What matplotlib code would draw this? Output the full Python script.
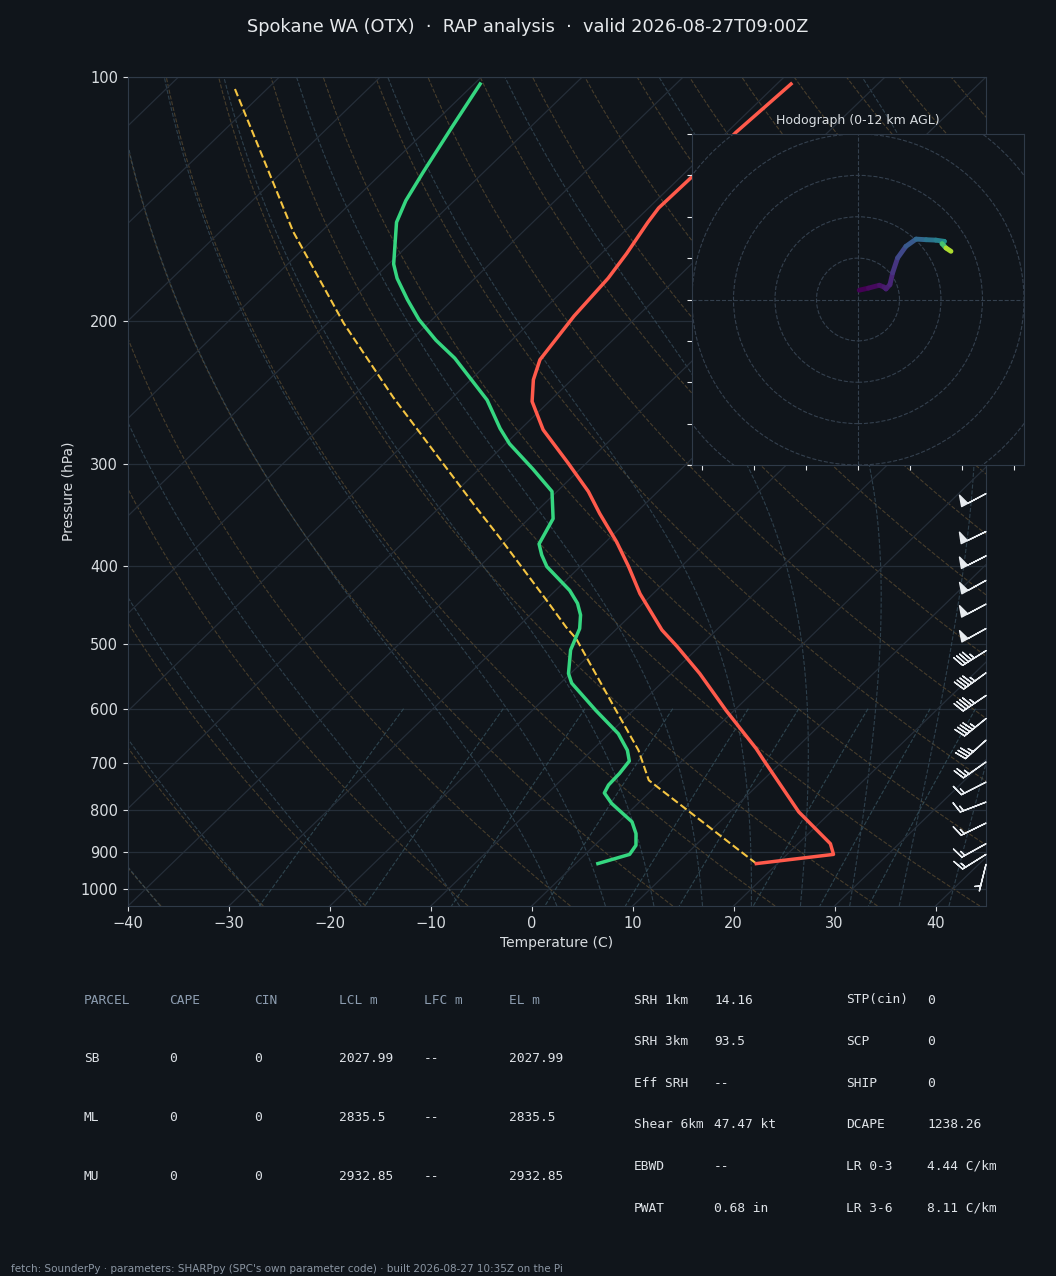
import numpy as np
import matplotlib
matplotlib.use("Agg")
import matplotlib.pyplot as plt
from matplotlib.transforms import Affine2D
from matplotlib.collections import LineCollection
from matplotlib.patches import Circle
from matplotlib.ticker import NullLocator

BG = "#10151b"
GRID = "#252e39"
SPINE = "#2f3a48"
TXT = "#d9dde1"

# temperature profile (hPa, C)
t_pres = [931, 907, 880, 827, 804, 694, 672, 603, 543, 503, 480, 433, 401, 374,
          345, 324, 299, 272, 251, 236, 223, 197, 177, 165, 151, 145, 133, 117, 102]
t_vals = [17.9, 24.6, 23.2, 18.8, 16.8, 8.0, 6.1, -0.8, -7.2, -12.2, -15.4, -21.3,
          -25.2, -28.9, -33.5, -36.9, -41.8, -47.7, -51.7, -53.8, -55.2, -56.3,
          -56.8, -57.5, -58.6, -59.0, -58.9, -59.1, -58.6]

# dewpoint profile
d_pres = [931, 907, 884, 855, 827, 785, 762, 745, 721, 696, 675, 644, 603, 558,
          543, 508, 478, 460, 445, 429, 401, 388, 376, 350, 324, 304, 283, 271,
          250, 222, 211, 199, 188, 177, 170, 151, 142, 131, 115, 102]
d_vals = [2.2, 4.4, 4.1, 2.9, 1.3, -2.6, -4.4, -4.8, -4.9, -5.2, -6.5, -9.1, -13.7,
          -18.9, -20.2, -22.4, -23.7, -25.0, -26.5, -28.6, -33.3, -35.0, -36.4,
          -37.6, -40.5, -44.7, -49.6, -52.1, -56.3, -63.8, -67.5, -71.3, -74.5,
          -77.7, -79.5, -83.5, -84.8, -86.0, -87.8, -89.4]

# surface-based parcel
pc_pres = [931, 735, 675, 603, 492, 476, 441, 369, 340, 248, 201, 155, 103]
pc_vals = [17.9, -1.3, -5.4, -11.7, -23.0, -25.2, -29.9, -41.0, -46.2, -65.9,
           -78.4, -92.8, -113.4]

# wind barbs
w_pres = [326, 363, 389, 417, 446, 478, 509, 542, 578, 617, 656, 698, 739, 782,
          830, 880, 907, 933]
w_spd = [50, 50, 50, 50, 50, 50, 45, 45, 45, 45, 35, 25, 15, 15, 15, 15, 15, 5]
w_dir = [242, 244, 243, 241, 242, 241, 238, 234, 236, 231, 228, 235, 243, 249,
         244, 241, 238, 194]

# hodograph (kt) with height (km AGL)
h_u = [0.6, 5.0, 10.3, 12.5, 13.5, 15.4, 16.7, 19.1, 23.1, 28.0, 32.8, 37.5, 41.6,
       40.5, 42.4, 44.8]
h_v = [4.5, 5.5, 6.9, 6.0, 5.1, 7.2, 12.9, 20.1, 25.7, 29.2, 28.9, 28.7, 28.1,
       27.0, 24.9, 23.3]
h_z = [0.0, 0.3, 0.6, 0.8, 1.0, 1.3, 1.8, 2.6, 3.3, 4.0, 4.6, 5.2, 6.0, 8.5, 10.5, 12.0]

parcel_rows = [["PARCEL", "CAPE", "CIN", "LCL m", "LFC m", "EL m"],
               ["SB", "0", "0", "2027.99", "--", "2027.99"],
               ["ML", "0", "0", "2835.5", "--", "2835.5"],
               ["MU", "0", "0", "2932.85", "--", "2932.85"]]
params_a = [("SRH 1km", "14.16"), ("SRH 3km", "93.5"), ("Eff SRH", "--"),
            ("Shear 6km", "47.47 kt"), ("EBWD", "--"), ("PWAT", "0.68 in")]
params_b = [("STP(cin)", "0"), ("SCP", "0"), ("SHIP", "0"), ("DCAPE", "1238.26"),
            ("LR 0-3", "4.44 C/km"), ("LR 3-6", "8.11 C/km")]

W, H = 1056, 1276
fig = plt.figure(figsize=(W / 100, H / 100), dpi=100, facecolor=BG)

ax = fig.add_axes([128 / W, 1 - 906 / H, 858 / W, 829 / H], facecolor=BG)
ax.set_yscale("log")
ax.set_xlim(-40, 45)
ax.set_ylim(1050, 100)
ax.set_autoscale_on(False)
skew = ax.transScale + ax.transLimits + Affine2D().skew_deg(45, 0) + ax.transAxes

# thermodynamic background
Rd, Cp, Lv, EPS = 287.04, 1005.7, 2.501e6, 0.622


def esat(tc):
    return 6.112 * np.exp(17.67 * tc / (tc + 243.5))


def dTdp(p, T):
    es = esat(T - 273.15)
    rs = EPS * es / (p - es)
    return (Rd * T + Lv * rs) / (Cp + Lv * Lv * rs * EPS / (Rd * T * T)) / p


def integrate(T, plev):
    out = [T.copy()]
    for p1, p2 in zip(plev[:-1], plev[1:]):
        h = p2 - p1
        k1 = dTdp(p1, T)
        k2 = dTdp(p1 + h / 2, T + h / 2 * k1)
        k3 = dTdp(p1 + h / 2, T + h / 2 * k2)
        k4 = dTdp(p2, T + h * k3)
        T = T + h / 6 * (k1 + 2 * k2 + 2 * k3 + k4)
        out.append(T.copy())
    return np.array(out)


pgrid = np.linspace(1050, 100, 200)
for t0 in np.arange(-40, 246, 10):
    tk = (t0 + 273.15) * (pgrid / 1000.0) ** (Rd / Cp) - 273.15
    ax.plot(tk, pgrid, transform=skew, color="#6b5736", lw=0.8, ls="--", alpha=0.6, zorder=1)

t0m = np.concatenate((np.arange(-40, 0, 10), np.arange(0, 46, 5))) + 273.15
p_up = np.linspace(1000, 100, 181)
p_dn = np.linspace(1000, 1050, 11)
up = integrate(t0m.astype(float), p_up)
dn = integrate(t0m.astype(float), p_dn)
pm = np.concatenate((p_dn[::-1], p_up[1:]))
tm = np.concatenate((dn[::-1], up[1:])) - 273.15
for i in range(len(t0m)):
    ax.plot(tm[:, i], pm, transform=skew, color="#3a5160", lw=0.8, ls="--", alpha=0.7, zorder=1)

pmix = np.linspace(600, 1050, 50)
for w in [0.0004, 0.001, 0.002, 0.004, 0.007, 0.01, 0.016, 0.024, 0.032]:
    e = pmix * w / (EPS + w)
    lg = np.log(e / 6.112)
    td = 243.5 * lg / (17.67 - lg)
    ax.plot(td, pmix, transform=skew, color="#35505c", lw=0.8, ls="--", alpha=0.8, zorder=1)

for t in range(-130, 50, 10):
    ax.plot([t, t], [1050, 100], transform=skew, color=GRID, lw=0.9, zorder=1)

ax.set_yticks([100, 200, 300, 400, 500, 600, 700, 800, 900, 1000])
ax.set_yticklabels(["100", "200", "300", "400", "500", "600", "700", "800", "900", "1000"])
ax.yaxis.set_minor_locator(NullLocator())
ax.set_xticks(range(-40, 41, 10))
ax.grid(axis="y", color=GRID, lw=0.9)
ax.set_axisbelow(True)

ax.plot(t_vals, t_pres, transform=skew, color="#ff5a4b", lw=2.5, zorder=5)
ax.plot(d_vals, d_pres, transform=skew, color="#35d680", lw=2.5, zorder=5)
ax.plot(pc_vals, pc_pres, transform=skew, color="#f5c542", lw=1.5, ls="--", zorder=4)

wd = np.radians(w_dir)
wu = -np.array(w_spd) * np.sin(wd)
wv = -np.array(w_spd) * np.cos(wd)
ax.barbs(np.ones(len(w_pres)), w_pres, wu, wv, transform=ax.get_yaxis_transform(),
         clip_on=False, length=6.3, color="#e8ecf0", lw=1.0, zorder=6)

for s in ax.spines.values():
    s.set_color(SPINE)
ax.tick_params(colors=TXT, labelsize=10.5)
ax.set_xlabel("Temperature (C)", color=TXT, fontsize=10)
ax.set_ylabel("Pressure (hPa)", color=TXT, fontsize=10)

# hodograph inset
hax = fig.add_axes([692 / W, 1 - 465 / H, 332 / W, 331 / H], facecolor=BG)
hax.set_xlim(-80, 80)
hax.set_ylim(-80, 80)
for r in range(20, 121, 20):
    hax.add_patch(Circle((0, 0), r, fill=False, ls="--", lw=0.8, color="#34404e"))
hax.axhline(0, ls="--", lw=0.8, color="#34404e")
hax.axvline(0, ls="--", lw=0.8, color="#34404e")
pts = np.array([h_u, h_v]).T.reshape(-1, 1, 2)
segs = np.concatenate([pts[:-1], pts[1:]], axis=1)
z = np.array(h_z)
lc = LineCollection(segs, cmap="viridis", norm=plt.Normalize(z.min(), z.max()), lw=3.5,
                    capstyle="round")
lc.set_array(z[:-1])
hax.add_collection(lc)
hax.set_xticks(range(-75, 76, 25))
hax.set_yticks(range(-80, 81, 20))
hax.tick_params(colors="#e6e9ec", labelbottom=False, labelleft=False)
for s in hax.spines.values():
    s.set_color(SPINE)
hax.set_title("Hodograph (0-12 km AGL)", color=TXT, fontsize=9, pad=7)

fig.text(0.5, 1 - 27 / H, "Spokane WA (OTX)  ·  RAP analysis  ·  valid 2026-08-27T09:00Z",
         ha="center", va="center", color="#e6e9ec", fontsize=12.8)

mono = "DejaVu Sans Mono"
for r, row in enumerate(parcel_rows):
    y = 1 - (1000 + r * 58.8) / H
    for c, cell in enumerate(row):
        fig.text((84 + c * 85) / W, y, cell, ha="left", va="center", family=mono,
                 fontsize=9.3, color="#8d9db0" if r == 0 else "#dfe3e8")
for i, (k, v) in enumerate(params_a):
    y = 1 - (1000 + i * 41.6) / H
    fig.text(634 / W, y, k, ha="left", va="center", family=mono, fontsize=9.3, color="#dfe3e8")
    fig.text(714 / W, y, v, ha="left", va="center", family=mono, fontsize=9.3, color="#dfe3e8")
for i, (k, v) in enumerate(params_b):
    y = 1 - (1000 + i * 41.6) / H
    fig.text(846 / W, y, k, ha="left", va="center", family=mono, fontsize=9.3, color="#dfe3e8")
    fig.text(927 / W, y, v, ha="left", va="center", family=mono, fontsize=9.3, color="#dfe3e8")

fig.text(11 / W, 1 - 1269 / H,
         "fetch: SounderPy · parameters: SHARPpy (SPC's own parameter code) · built 2026-08-27 10:35Z on the Pi",
         ha="left", va="center", color="#8b96a3", fontsize=7.5)

fig.savefig("out.png", dpi=100, facecolor=BG)
